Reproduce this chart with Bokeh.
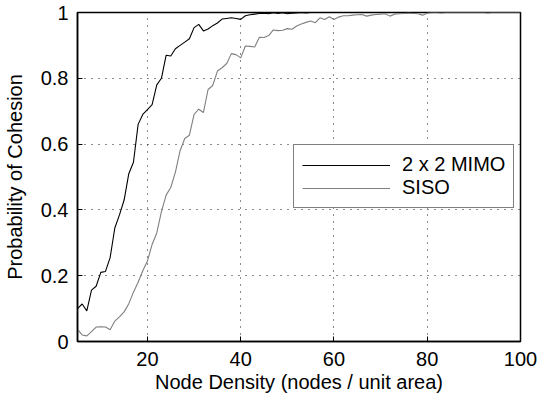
from bokeh.plotting import figure
from bokeh.models import Range1d, FixedTicker, Legend, LegendItem
from bokeh.embed import file_html
from bokeh.resources import INLINE

# Node density (x) and probability of cohesion for each scheme
density = list(range(5, 101))
mimo = [0.100, 0.114, 0.093, 0.156, 0.168, 0.210, 0.213, 0.255, 0.345, 0.385,
        0.430, 0.510, 0.545, 0.660, 0.690, 0.705, 0.720, 0.780, 0.800, 0.870,
        0.868, 0.890, 0.900, 0.910, 0.920, 0.954, 0.964, 0.944, 0.950, 0.960,
        0.968, 0.980, 0.982, 0.984, 0.982, 0.979, 0.990, 0.993, 0.995, 0.997,
        0.998, 0.996, 0.999, 0.997, 0.999, 0.996, 0.998, 0.999, 1.000, 0.999,
        1.000, 1.000, 1.000, 1.000, 1.000, 1.000, 1.000, 1.000, 1.000, 1.000,
        1.000, 1.000, 1.000, 1.000, 1.000, 1.000, 1.000, 1.000, 1.000, 1.000,
        1.000, 1.000, 1.000, 1.000, 1.000, 1.000, 1.000, 1.000, 1.000, 1.000,
        1.000, 1.000, 1.000, 1.000, 1.000, 1.000, 1.000, 1.000, 1.000, 1.000,
        1.000, 1.000, 1.000, 1.000, 1.000, 1.000]
siso = [0.037, 0.020, 0.017, 0.030, 0.044, 0.045, 0.044, 0.036, 0.062, 0.075,
        0.090, 0.115, 0.150, 0.180, 0.215, 0.245, 0.295, 0.330, 0.395, 0.445,
        0.468, 0.515, 0.580, 0.617, 0.627, 0.690, 0.706, 0.696, 0.766, 0.778,
        0.822, 0.832, 0.845, 0.875, 0.872, 0.862, 0.898, 0.897, 0.895, 0.925,
        0.924, 0.930, 0.947, 0.945, 0.946, 0.951, 0.949, 0.959, 0.965, 0.970,
        0.974, 0.969, 0.984, 0.979, 0.987, 0.979, 0.986, 0.990, 0.990, 0.992,
        0.993, 0.994, 0.989, 0.992, 0.994, 0.995, 0.996, 0.989, 0.995, 0.996,
        0.997, 0.998, 0.997, 0.996, 0.992, 0.998, 1.000, 1.000, 0.999, 1.000,
        1.000, 1.000, 1.000, 1.000, 1.000, 1.000, 1.000, 1.000, 0.999, 1.000,
        1.000, 1.000, 1.000, 1.000, 1.000, 1.000]
x_ticks = [20, 40, 60, 80, 100]
y_ticks = [0, 0.2, 0.4, 0.6, 0.8, 1]
labels = ["2 x 2 MIMO", "SISO"]

FONT = "Liberation Sans"
FS = "20px"

p = figure(width=539, height=402, output_backend="svg", toolbar_location=None,
           x_range=Range1d(5, 100), y_range=Range1d(0, 1),
           min_border_left=73, min_border_right=19, min_border_top=12,
           min_border_bottom=61)
p.background_fill_color = "white"
p.border_fill_color = "white"
p.outline_line_color = "black"
p.outline_line_width = 1.5

r1 = p.line(density, mimo, line_color="black", line_width=1.1)
r2 = p.line(density, siso, line_color="#7f7f7f", line_width=1.1)

for ax in (p.xaxis[0], p.yaxis[0]):
    ax.axis_line_color = "black"
    ax.axis_line_width = 1.5
    ax.major_tick_in = 5
    ax.major_tick_out = 0
    ax.major_tick_line_color = "black"
    ax.minor_tick_line_color = None
    ax.major_label_text_font = FONT
    ax.major_label_text_font_size = FS
    ax.major_label_text_color = "black"
    ax.axis_label_text_font = FONT
    ax.axis_label_text_font_size = FS
    ax.axis_label_text_font_style = "normal"
    ax.axis_label_text_color = "black"

p.xaxis[0].ticker = FixedTicker(ticks=x_ticks)
p.yaxis[0].ticker = FixedTicker(ticks=y_ticks)
p.yaxis[0].major_label_overrides = {0: "0", 1: "1"}
p.xaxis[0].axis_label = "Node Density (nodes / unit area)"
p.yaxis[0].axis_label = "Probability of Cohesion"
p.xaxis[0].major_label_standoff = 10
p.xaxis[0].axis_label_standoff = 2
p.yaxis[0].major_label_standoff = 9
p.yaxis[0].axis_label_standoff = 12

for g in (p.xgrid[0], p.ygrid[0]):
    g.grid_line_color = "black"
    g.grid_line_dash = "1 6"
    g.grid_line_width = 1
    g.grid_line_alpha = 0.9

legend = Legend(items=[LegendItem(label=labels[0], renderers=[r1]),
                       LegendItem(label=labels[1], renderers=[r2])],
                location=(216, 133), margin=0, padding=8, spacing=0,
                glyph_width=88, glyph_height=22, label_height=22,
                label_standoff=12, label_text_font=FONT, label_text_font_size=FS,
                label_text_color="black", border_line_color="black",
                border_line_width=1.5, background_fill_color="white",
                background_fill_alpha=1.0)
p.add_layout(legend, "center")

open("out.html", "w").write(file_html(p, INLINE))
